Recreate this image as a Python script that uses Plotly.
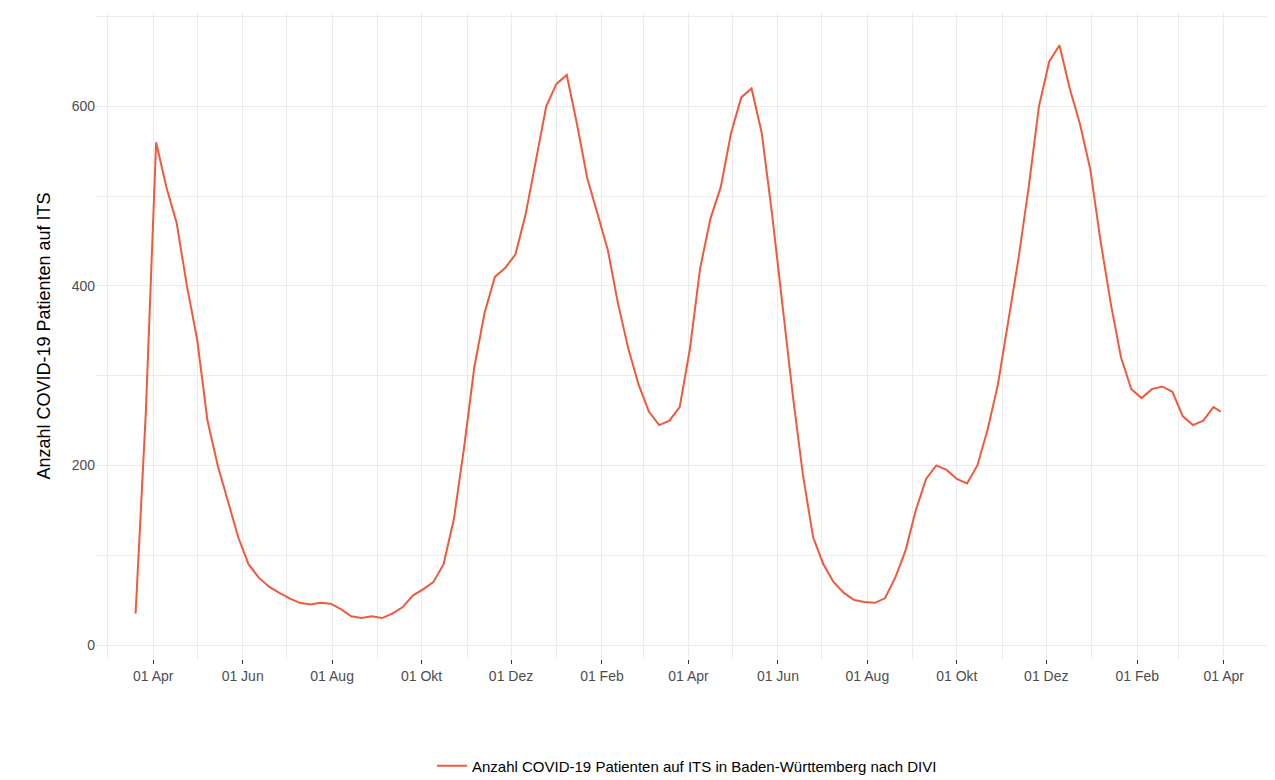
import pandas as pd
import plotly.graph_objects as go

start = "2020-03-20"
its_patients = [
    35, 260, 560, 510, 470, 400, 340, 250, 200, 160, 120, 90, 75, 65, 58, 52,
    47, 45, 47, 46, 40, 32, 30, 32, 30, 35, 42, 55, 62, 70, 90, 140, 220, 310,
    370, 410, 420, 435, 480, 540, 600, 625, 635, 580, 520, 480, 440, 380, 330,
    290, 260, 245, 250, 265, 330, 420, 475, 510, 570, 610, 620, 570, 480, 380,
    280, 190, 120, 90, 70, 58, 50, 48, 47, 52, 75, 105, 150, 185, 200, 195, 185,
    180, 200, 240, 290, 360, 430, 510, 600, 650, 668, 620, 580, 530, 450, 380,
    320, 285, 275, 285, 288, 282, 255, 245, 250, 265,
]
dates = list(pd.date_range(start, periods=len(its_patients), freq="7D"))
dates.append(pd.Timestamp("2022-03-30"))
its_patients.append(260)

tick_dates = pd.date_range("2020-04-01", "2022-04-01", freq="2MS")
tick_labels = [d.strftime("01 %b").replace("Oct", "Okt").replace("Dec", "Dez") for d in tick_dates]

fig = go.Figure()
fig.add_trace(go.Scatter(
    x=dates, y=its_patients, mode="lines",
    name="Anzahl COVID-19 Patienten auf ITS in Baden-Württemberg nach DIVI",
    line=dict(color="#F05A3C", width=2),
))

grid = "#EBEBEB"
fig.update_xaxes(
    range=["2020-02-22", "2022-05-08"], tickvals=tick_dates, ticktext=tick_labels,
    gridcolor=grid, showline=False, zeroline=False, ticks="outside", ticklen=4,
    tickcolor="#333333", minor=dict(dtick="M1", tick0="2020-03-01", gridcolor=grid, showgrid=True),
)
fig.update_yaxes(
    title_text="Anzahl COVID-19 Patienten auf ITS", range=[-15.6, 704],
    tickvals=[0, 200, 400, 600], gridcolor=grid, zeroline=False,
    minor=dict(dtick=100, tick0=0, gridcolor=grid, showgrid=True),
    title_font=dict(size=18, color="black"),
)
fig.update_layout(
    width=1275, height=780, template="none",
    plot_bgcolor="white", paper_bgcolor="white",
    font=dict(family="Liberation Sans, Arial", size=14, color="#4D4D4D"),
    margin=dict(l=88, r=5, t=5, b=110),
    showlegend=True,
    legend=dict(orientation="h", x=0.5, xanchor="center", y=-0.14, yanchor="top",
                font=dict(size=15, color="black")),
)
fig.write_html("out.html")
